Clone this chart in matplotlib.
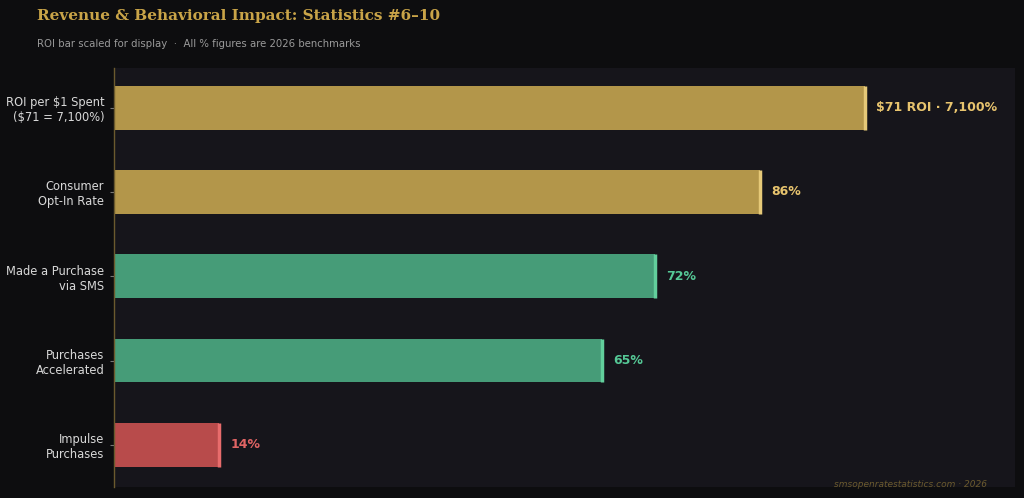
import matplotlib
matplotlib.use("Agg")
import matplotlib.pyplot as plt

categories = ["ROI per $1 Spent\n($71 = 7,100%)", "Consumer\nOpt-In Rate",
              "Made a Purchase\nvia SMS", "Purchases\nAccelerated", "Impulse\nPurchases"]
display_values = [100, 86, 72, 65, 14]
value_labels = ["$71 ROI · 7,100%", "86%", "72%", "65%", "14%"]
bar_colors = ["#b3964a", "#b3964a", "#469c78", "#469c78", "#b84b4b"]
end_colors = ["#e6c978", "#e6c978", "#62cf9c", "#62cf9c", "#e86c6c"]
text_colors = ["#e8c46e", "#e8c46e", "#55c896", "#55c896", "#e06464"]

fig = plt.figure(figsize=(10.24, 4.98), dpi=100, facecolor="#0d0d0f")
ax = fig.add_axes([114/1024, 1-487/498, (1015-114)/1024, (487-68)/498])
ax.set_facecolor("#16151b")

y = list(range(len(categories)))
ax.barh(y, display_values, height=0.52, color=bar_colors, edgecolor="#00000000", zorder=2)
for yi, v, ec, lab, tc in zip(y, display_values, end_colors, value_labels, text_colors):
    ax.plot([v, v], [yi-0.26, yi+0.26], color=ec, lw=2.5, solid_capstyle="butt", zorder=3)
    ax.text(v + 1.5, yi, lab, va="center", ha="left", color=tc, fontsize=9, fontweight="bold", zorder=4)

ax.set_xlim(0, 120)
ax.set_ylim(4.5, -0.47)
ax.set_yticks(y)
ax.set_yticklabels(categories, color="#d8d8d8", fontsize=8.3)
ax.tick_params(axis="y", length=3, color="#777777", pad=4)
ax.set_xticks([])
for s in ["top", "right", "bottom"]:
    ax.spines[s].set_visible(False)
ax.spines["left"].set_color("#6b5a2e")
ax.spines["left"].set_linewidth(1.0)

fig.text(37/1024, 1-16/498, "Revenue & Behavioral Impact: Statistics #6–10", family="DejaVu Serif",
         fontweight="bold", fontsize=11, color="#c9a448", va="center", ha="left")
fig.text(37/1024, 1-44/498, "ROI bar scaled for display  ·  All % figures are 2026 benchmarks",
         fontsize=7.3, color="#9a9a9a", va="center", ha="left")
fig.text(987/1024, 1-484/498, "smsopenratestatistics.com · 2026", fontsize=6.5, style="italic",
         color="#6b5a2e", va="center", ha="right")

fig.savefig("out.png", dpi=100, facecolor=fig.get_facecolor())
